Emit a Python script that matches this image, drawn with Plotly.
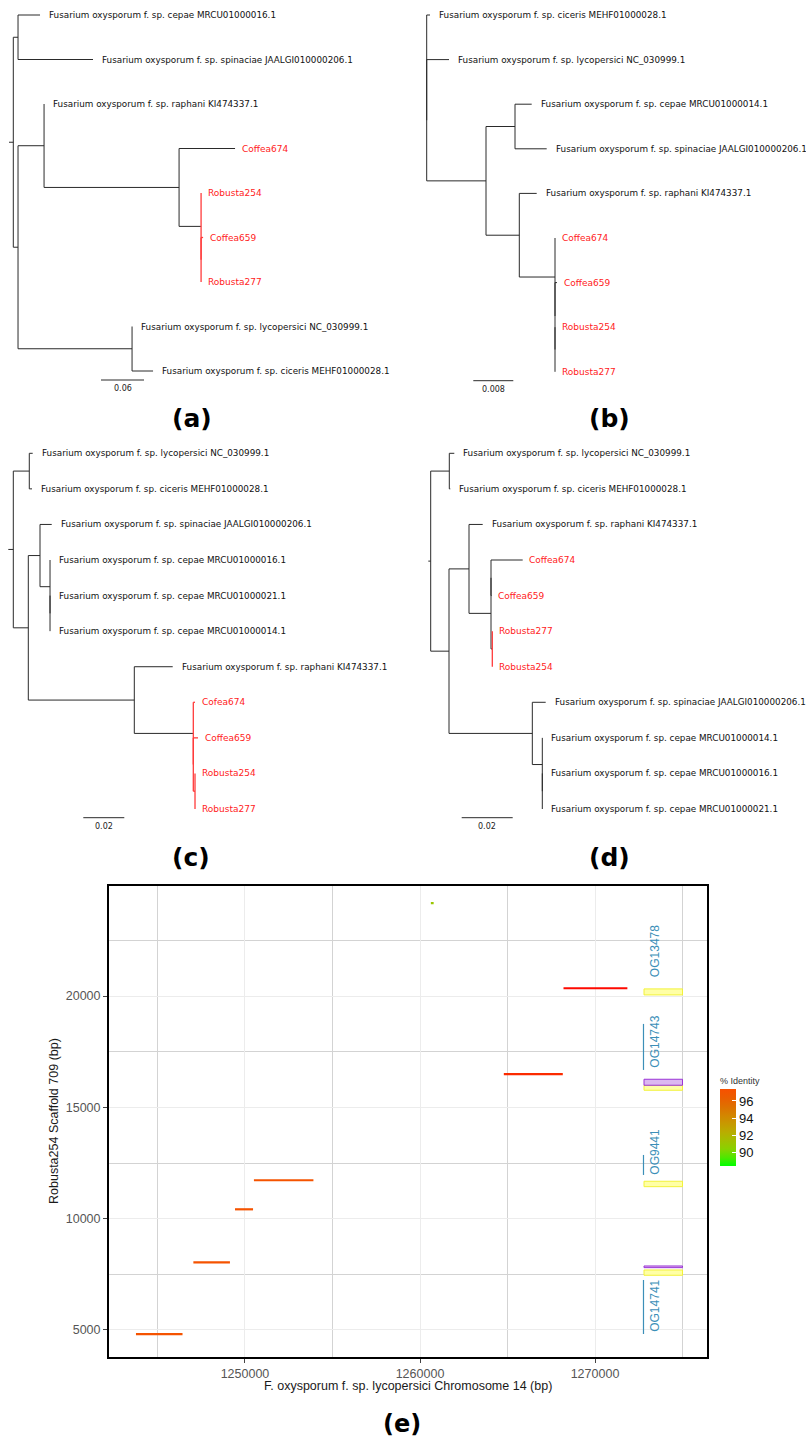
import plotly.graph_objects as go
from plotly.colors import sample_colorscale

# ---------------- DATA ----------------
# Phylogenetic trees (Newick, branch lengths in substitutions/site); node "r" marks red clade
NEWICK_A = "((CEP16:0.0307,SPI:0.1046):0.0066,((RAP:0,(C674:0.0781,(R254:0,(C659:0.0028,R277:0):0)r:0.0307):0.1884):0.0363,(LYC:0,CIC:0.0293):0.1591):0.0066);"
NEWICK_B = "(CIC:0.00066,(LYC:0.00446,((CEP14:0.00334,SPI:0.00634):0.0058,(RAP:0.00348,(C674:0,(C659:0.0004,(R254:0,R277:0):0):0):0.00714):0.00666):0.01186):0);"
NEWICK_C = "((LYC:0.00166,CIC:0.00132):0.0078,((SPI:0.00571,(CEP16:0,(CEP21:0,CEP14:0):0):0.00488):0.00571,(RAP:0.01873,(CF674:0.00083,(C659:0.00229,(R254:0,R277:0):0.00083):0)r:0.02878):0.05171):0.00732);"
NEWICK_D = "((LYC:0.00196,CIC:0.00039):0.0073,((RAP:0.00537,((C674:0.01243,C659:0.0002):0,(R277:0,R254:0)r:0.00051):0.00863):0.00784,(SPI:0.00525,(CEP14:0,(CEP16:0,CEP21:0):0):0.00392):0.03267):0.00718);"
SCALE_BARS = [0.06, 0.008, 0.02, 0.02]
SCALE_LABELS = ["0.06", "0.008", "0.02", "0.02"]

LEAF_LABELS = {
    "CEP16": "Fusarium oxysporum f. sp. cepae MRCU01000016.1",
    "CEP14": "Fusarium oxysporum f. sp. cepae MRCU01000014.1",
    "CEP21": "Fusarium oxysporum f. sp. cepae MRCU01000021.1",
    "SPI": "Fusarium oxysporum f. sp. spinaciae JAALGI010000206.1",
    "RAP": "Fusarium oxysporum f. sp. raphani KI474337.1",
    "LYC": "Fusarium oxysporum f. sp. lycopersici NC_030999.1",
    "CIC": "Fusarium oxysporum f. sp. ciceris MEHF01000028.1",
    "C674": "Coffea674",
    "CF674": "Cofea674",
    "C659": "Coffea659",
    "R254": "Robusta254",
    "R277": "Robusta277",
}
RED_LEAVES = ["C674", "CF674", "C659", "R254", "R277"]
PANEL_LETTERS = ["(a)", "(b)", "(c)", "(d)", "(e)"]

# Panel (e): alignment segments
SEG_X0 = [1243770, 1247050, 1249430, 1250510, 1264790, 1268200, 1260620]
SEG_X1 = [1246430, 1249140, 1250460, 1253910, 1268160, 1271850, 1260780]
SEG_Y = [4810, 8040, 10420, 11725, 16490, 20350, 24170]
SEG_IDENT = [97.2, 97.2, 97.2, 97.2, 98.6, 99.7, 91.0]

IDENT_STOPS = [88.4, 90, 92, 94, 96, 97.4, 100]
IDENT_COLORS = ["#00ff00", "#7fd800", "#b4b400", "#d08c00", "#e66200", "#f85000", "#ff0000"]
CB_MIN, CB_MAX = 88.4, 97.4
CB_TICKS = [90, 92, 94, 96]

# Gene / orthogroup track
GENE_X = [1272800, 1275000]
YELLOW_Y0 = [20050, 15768, 11437, 7457]
YELLOW_Y1 = [20320, 15993, 11680, 7695]
PURPLE_Y0 = [15993, 7800]
PURPLE_Y1 = [16262, 7875]
OG_NAMES = ["OG13478", "OG14743", "OG9441", "OG14741"]
OG_TEXT_Y = [22017, 17951, 13010, 6087]
OG_LINE_Y0 = [None, 16680, 11963, 4820]
OG_LINE_Y1 = [None, 18747, 12862, 7246]
OG_TEXT_X = 1273430
OG_LINE_X = 1272771

X_RANGE = [1242229, 1276400]
Y_RANGE = [3800, 24942]
X_TICKS = [1250000, 1260000, 1270000]
X_MINOR = [1245000, 1255000, 1265000, 1275000]
Y_TICKS = [5000, 10000, 15000, 20000]
Y_MINOR = [7500, 12500, 17500, 22500]
X_TITLE = "F. oxysporum f. sp. lycopersici Chromosome 14 (bp)"
Y_TITLE = "Robusta254 Scaffold 709 (bp)"

# ---------------- HELPERS ----------------
W, H = 806, 1441


def parse_newick(s):
    s = s.strip().rstrip(";")
    pos = [0]

    def node():
        n = {"children": [], "name": "", "length": 0.0}
        if s[pos[0]] == "(":
            pos[0] += 1
            while True:
                n["children"].append(node())
                c = s[pos[0]]
                pos[0] += 1
                if c == ")":
                    break
        st = pos[0]
        while pos[0] < len(s) and s[pos[0]] not in ":,()":
            pos[0] += 1
        n["name"] = s[st:pos[0]]
        if pos[0] < len(s) and s[pos[0]] == ":":
            pos[0] += 1
            st = pos[0]
            while pos[0] < len(s) and s[pos[0]] not in ",()":
                pos[0] += 1
            n["length"] = float(s[st:pos[0]])
        return n

    return node()


def layout_tree(root):
    leaves = []

    def rec(n, x, red):
        n["x"] = x
        n["red"] = red or n["name"] == "r"
        if not n["children"]:
            n["y"] = len(leaves)
            leaves.append(n)
        else:
            for c in n["children"]:
                rec(c, x + c["length"], n["red"])
            n["y"] = (n["children"][0]["y"] + n["children"][-1]["y"]) / 2
    rec(root, 0.0, False)
    return leaves


def collect_lines(n, black, red):
    if n["children"]:
        tgt = red if n["red"] else black
        tgt[0] += [n["x"], n["x"], None]
        tgt[1] += [n["children"][0]["y"], n["children"][-1]["y"], None]
        for c in n["children"]:
            if c["x"] > n["x"]:
                t2 = red if n["red"] else black
                t2[0] += [n["x"], c["x"], None]
                t2[1] += [c["y"], c["y"], None]
            collect_lines(c, black, red)


TREE_GEOM = [
    dict(newick=NEWICK_A, xd=(0, 403), yd=(0, 440), root_px=13.3, ppu=716.7, leaf0=15, step=44.5,
         stub=4.3, bar=(101, 380), letter=(192, 418)),
    dict(newick=NEWICK_B, xd=(403, 806), yd=(0, 440), root_px=426.7, ppu=5000, leaf0=15, step=44.6,
         stub=0, bar=(473.3, 380.7), letter=(609, 418)),
    dict(newick=NEWICK_C, xd=(0, 403), yd=(440, 870), root_px=13.3, ppu=2050, leaf0=453.3, step=35.57,
         stub=5, bar=(83.3, 817.7), letter=(191, 857)),
    dict(newick=NEWICK_D, xd=(403, 806), yd=(440, 870), root_px=430.7, ppu=2550, leaf0=453.3, step=35.57,
         stub=2.4, bar=(461.7, 817.7), letter=(609, 857)),
]

fig = go.Figure()
annotations = []
shapes = []
layout_axes = {}

BLACK_LINE = "#2a2a2a"
RED_LINE = "#ff3b3b"
RED_TEXT = "#ff2222"

for i, g in enumerate(TREE_GEOM):
    k = i + 1
    xa = "x" if k == 1 else f"x{k}"
    ya = "y" if k == 1 else f"y{k}"
    root = parse_newick(g["newick"])
    leaves = layout_tree(root)
    black, red = [[], []], [[], []]
    collect_lines(root, black, red)
    if g["stub"] > 0:
        black[0] += [-g["stub"] / g["ppu"], 0, None]
        black[1] += [root["y"], root["y"], None]
    # scale bar
    bx0 = (g["bar"][0] - g["root_px"]) / g["ppu"]
    bx1 = bx0 + SCALE_BARS[i]
    by = (g["bar"][1] - g["leaf0"]) / g["step"]
    black[0] += [bx0, bx1, None]
    black[1] += [by, by, None]
    fig.add_trace(go.Scatter(x=black[0], y=black[1], mode="lines", line=dict(color=BLACK_LINE, width=1),
                             xaxis=xa, yaxis=ya, hoverinfo="skip", showlegend=False))
    if red[0]:
        fig.add_trace(go.Scatter(x=red[0], y=red[1], mode="lines", line=dict(color=RED_LINE, width=1.3),
                                 xaxis=xa, yaxis=ya, hoverinfo="skip", showlegend=False))
    annotations.append(dict(x=(bx0 + bx1) / 2, y=by, xref=xa, yref=ya, text=SCALE_LABELS[i],
                            showarrow=False, yanchor="top", yshift=-2,
                            font=dict(family="DejaVu Sans", size=8, color="#222")))
    for lf in leaves:
        isred = lf["name"] in RED_LEAVES
        annotations.append(dict(
            x=lf["x"], y=lf["y"], xref=xa, yref=ya, text=LEAF_LABELS[lf["name"]], showarrow=False,
            xanchor="left", yanchor="middle", xshift=4.5 if isred else 7,
            font=dict(family="DejaVu Sans", size=9 if isred else 8.8,
                      color=RED_TEXT if isred else "#111")))
    x0, x1 = g["xd"]
    y0, y1 = g["yd"]
    layout_axes["xaxis" if k == 1 else f"xaxis{k}"] = dict(
        domain=[x0 / W, x1 / W], range=[(x0 - g["root_px"]) / g["ppu"], (x1 - g["root_px"]) / g["ppu"]],
        visible=False, fixedrange=True, anchor=ya)
    layout_axes["yaxis" if k == 1 else f"yaxis{k}"] = dict(
        domain=[1 - y1 / H, 1 - y0 / H], range=[(y1 - g["leaf0"]) / g["step"], (y0 - g["leaf0"]) / g["step"]],
        visible=False, fixedrange=True, anchor=xa)
    annotations.append(dict(x=g["letter"][0] / W, y=1 - g["letter"][1] / H, xref="paper", yref="paper",
                            text=f"<b>{PANEL_LETTERS[i]}</b>", showarrow=False,
                            xanchor="center", yanchor="middle",
                            font=dict(family="DejaVu Sans", size=25, color="#000")))

# ---------------- Panel (e) ----------------
span = IDENT_STOPS[-1] - IDENT_STOPS[0]
master_scale = [[(v - IDENT_STOPS[0]) / span, c] for v, c in zip(IDENT_STOPS, IDENT_COLORS)]


def ident_color(v):
    f = min(max((v - IDENT_STOPS[0]) / span, 0), 1)
    return sample_colorscale(master_scale, [f])[0]


for x0, x1, y, idv in zip(SEG_X0, SEG_X1, SEG_Y, SEG_IDENT):
    fig.add_trace(go.Scatter(x=[x0, x1], y=[y, y], mode="lines",
                             line=dict(color=ident_color(idv), width=2.2),
                             xaxis="x5", yaxis="y5", hoverinfo="skip", showlegend=False))

# colourbar (sub-range of the identity scale)
n_cb = 10
cb_scale = []
for j in range(n_cb):
    v = CB_MIN + (CB_MAX - CB_MIN) * j / (n_cb - 1)
    cb_scale.append([j / (n_cb - 1), ident_color(v)])
fig.add_trace(go.Scatter(
    x=[SEG_X0[0]], y=[SEG_Y[0]], mode="markers", xaxis="x5", yaxis="y5", hoverinfo="skip", showlegend=False,
    marker=dict(size=1, opacity=0, color=[CB_MIN], colorscale=cb_scale, cmin=CB_MIN, cmax=CB_MAX,
                showscale=True,
                colorbar=dict(x=720 / W, xanchor="left", y=1 - 1166 / H, yanchor="bottom",
                              lenmode="pixels", len=92, thickness=16, xpad=0, ypad=0, outlinewidth=0,
                              tickvals=CB_TICKS, ticks="inside", tickcolor="white", ticklen=4,
                              tickfont=dict(family="Liberation Sans", size=13, color="#111"),
                              title=dict(text="% Identity", side="top",
                                         font=dict(family="Liberation Sans", size=9, color="#333"))))))

# gene track boxes
for y0, y1 in zip(YELLOW_Y0, YELLOW_Y1):
    shapes.append(dict(type="rect", xref="x5", yref="y5", x0=GENE_X[0], x1=GENE_X[1], y0=y0, y1=y1,
                       fillcolor="#ffffa6", line=dict(color="#f2f23a", width=1)))
for y0, y1 in zip(PURPLE_Y0, PURPLE_Y1):
    shapes.append(dict(type="rect", xref="x5", yref="y5", x0=GENE_X[0], x1=GENE_X[1], y0=y0, y1=y1,
                       fillcolor="#dcb8f0", line=dict(color="#9b35d6", width=1)))
TEAL = "#3c8fb8"
for name, ty, ly0, ly1 in zip(OG_NAMES, OG_TEXT_Y, OG_LINE_Y0, OG_LINE_Y1):
    if ly0 is not None:
        shapes.append(dict(type="line", xref="x5", yref="y5", x0=OG_LINE_X, x1=OG_LINE_X, y0=ly0, y1=ly1,
                           line=dict(color=TEAL, width=1.2)))
    annotations.append(dict(x=OG_TEXT_X, y=ty, xref="x5", yref="y5", text=name, textangle=-90,
                            showarrow=False, xanchor="center", yanchor="middle",
                            font=dict(family="Liberation Sans", size=12, color=TEAL)))

layout_axes["xaxis5"] = dict(
    domain=[109 / W, 707 / W], range=X_RANGE, anchor="y5", tickmode="array", tickvals=X_TICKS,
    ticktext=[str(v) for v in X_TICKS], ticks="outside", ticklen=4, tickcolor="#444", tickwidth=1,
    tickfont=dict(family="Liberation Sans", size=12.5, color="#555"),
    showgrid=True, gridcolor="#ececec", gridwidth=1, zeroline=False,
    minor=dict(tickmode="array", tickvals=X_MINOR, showgrid=True, gridcolor="#d3d3d3", gridwidth=1.3, ticks=""),
    showline=True, mirror=True, linecolor="#000", linewidth=2, fixedrange=True)
layout_axes["yaxis5"] = dict(
    domain=[1 - 1356.7 / H, 1 - 886 / H], range=Y_RANGE, anchor="x5", tickmode="array", tickvals=Y_TICKS,
    ticktext=[str(v) for v in Y_TICKS], ticks="outside", ticklen=4, tickcolor="#444", tickwidth=1,
    tickfont=dict(family="Liberation Sans", size=12.5, color="#555"),
    showgrid=True, gridcolor="#ececec", gridwidth=1, zeroline=False,
    minor=dict(tickmode="array", tickvals=Y_MINOR, showgrid=True, gridcolor="#d3d3d3", gridwidth=1.3, ticks=""),
    showline=True, mirror=True, linecolor="#000", linewidth=2, fixedrange=True)

annotations.append(dict(x=408 / W, y=1 - 1386 / H, xref="paper", yref="paper", text=X_TITLE, showarrow=False,
                        xanchor="center", yanchor="middle",
                        font=dict(family="Liberation Sans", size=12.5, color="#1a1a1a")))
annotations.append(dict(x=54 / W, y=1 - 1121 / H, xref="paper", yref="paper", text=Y_TITLE, showarrow=False,
                        textangle=-90, xanchor="center", yanchor="middle",
                        font=dict(family="Liberation Sans", size=12.5, color="#1a1a1a")))
annotations.append(dict(x=402 / W, y=1 - 1424 / H, xref="paper", yref="paper", text=f"<b>{PANEL_LETTERS[4]}</b>",
                        showarrow=False, xanchor="center", yanchor="middle",
                        font=dict(family="DejaVu Sans", size=24, color="#000")))

fig.update_layout(width=W, height=H, autosize=False, margin=dict(l=0, r=0, t=0, b=0),
                  paper_bgcolor="white", plot_bgcolor="white", showlegend=False,
                  annotations=annotations, shapes=shapes, **layout_axes)

fig.write_html("out.html")
